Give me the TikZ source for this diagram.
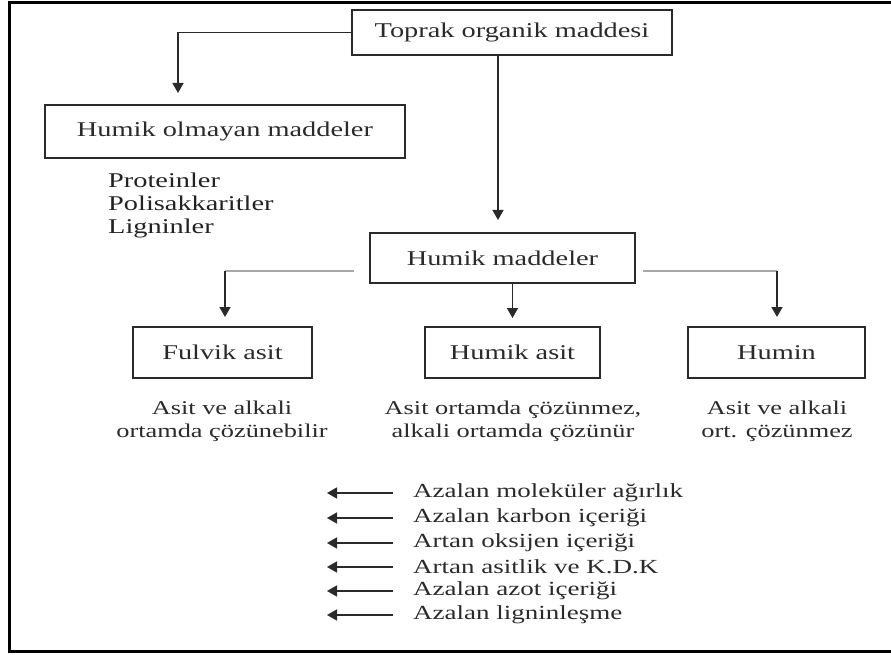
\documentclass[tikz,border=0pt]{standalone}
\usepackage{fontspec}
\setmainfont[FakeStretch=1.35]{Liberation Serif}
\usetikzlibrary{arrows.meta}
\definecolor{ink}{HTML}{2A2A2A}
\definecolor{lgray}{HTML}{A8A8A8}
\tikzset{
  box/.style={draw=ink, line width=2pt, rectangle, inner sep=0pt, text=ink, font=\fontsize{21}{24}\selectfont},
  conn/.style={draw=ink, line width=1.5pt, -{Triangle[length=10pt,width=11pt]}},
  gline/.style={draw=lgray, line width=1.4pt},
  desc/.style={text=ink, align=center, font=\fontsize{19.5}{23}\selectfont, inner sep=0pt},
  item/.style={text=ink, anchor=west, font=\fontsize{20}{24}\selectfont, inner sep=0pt},
  litem/.style={text=ink!80!black, align=left, font=\fontsize{21}{23}\selectfont, inner sep=0pt, anchor=north west},
}
\begin{document}
\begin{tikzpicture}[x=1pt,y=-1pt]
\useasboundingbox (0,0) rectangle (891,655);
% frame (open on the right)
\draw[line width=3pt, black] (891,3) -- (9,3) -- (9,651) -- (891,651);
% boxes
\node[box, minimum width=320pt, minimum height=45pt] (top) at (512,32.5) {Toprak organik maddesi};
\node[box, minimum width=360pt, minimum height=53pt] (hom) at (225,131.5) {Humik olmayan maddeler};
\node[box, minimum width=265pt, minimum height=50pt] (hm) at (502.5,258) {Humik maddeler};
\node[box, minimum width=179pt, minimum height=51pt] (fa) at (222.5,352.5) {Fulvik asit};
\node[box, minimum width=175pt, minimum height=51pt] (ha) at (512.5,352.5) {Humik asit};
\node[box, minimum width=177pt, minimum height=51pt] (hu) at (776.5,352.5) {Humin};
% coordinates
\coordinate (c1) at (178,93);
\coordinate (c2) at (498,220);
\coordinate (gl) at (354,271);
\coordinate (gr) at (643,271);
\coordinate (kl) at (225,271);
\coordinate (kr) at (777,271);
% connectors
\draw[conn] (top.west) -| (c1);
\draw[conn] (top.south -| c2) -- (c2);
\draw[conn] (hm.south -| ha) -- ++(0,34);
\draw[gline] (gl) -- (kl);
\draw[gline] (gr) -- (kr);
\draw[conn] (kl) -- ++(0,46);
\draw[conn] (kr) -- ++(0,46);
% list under non-humic
\node[litem] (lst) at (108,173) {Proteinler\\Polisakkaritler\\Ligninler};
% descriptions
\node[desc] (d1) at (222,421) {Asit ve alkali\\ortamda çözünebilir};
\node[desc] (d2) at (513,421) {Asit ortamda çözünmez,\\alkali ortamda çözünür};
\node[desc] (d3) at (777,421) {Asit ve alkali\\ort. çözünmez};
% property arrows
\foreach \y/\t/\n in {493/Azalan moleküler ağırlık/p1, 518/Azalan karbon içeriği/p2, 543/Artan oksijen içeriği/p3, 567/Artan asitlik ve K.D.K/p4, 591/Azalan azot içeriği/p5, 615/Azalan ligninleşme/p6}{
  \node[item] (\n) at (413,\y) {\t};
  \coordinate (\n t) at (393,\y);
  \coordinate (\n h) at (327,\y);
  \draw[conn] (\n t) -- (\n h);
}
\end{tikzpicture}
\end{document}
